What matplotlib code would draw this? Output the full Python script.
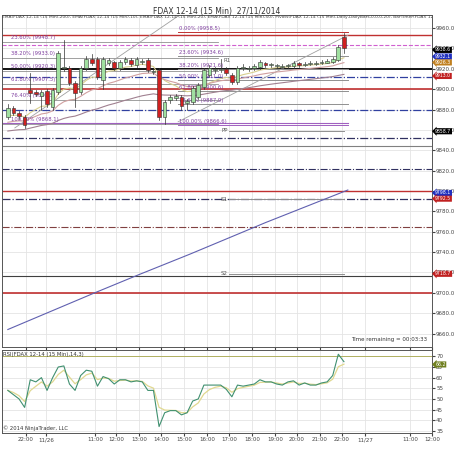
import numpy as np
import matplotlib.pyplot as plt

# 15 min candles (open, close, high, low)
opens = [9873, 9882, 9877, 9873, 9899, 9897, 9893, 9898, 9883, 9897,
         9921, 9921, 9906, 9897, 9921, 9930, 9930, 9909, 9926, 9927,
         9921, 9927, 9929, 9924, 9927, 9929, 9917, 9919, 9873, 9889,
         9891, 9892, 9886, 9887, 9892, 9902, 9914, 9919, 9919, 9920,
         9914, 9907, 9921, 9920, 9921, 9922, 9926, 9924, 9923, 9922,
         9923, 9923, 9926, 9924, 9925, 9925, 9926, 9926, 9927, 9929, 9951]
closes = [9882, 9877, 9874, 9865, 9896, 9895, 9897, 9885, 9899, 9936,
          9921, 9906, 9896, 9921, 9930, 9926, 9912, 9930, 9929, 9921,
          9927, 9930, 9925, 9930, 9928, 9919, 9917, 9873, 9887, 9892,
          9893, 9884, 9888, 9901, 9904, 9919, 9921, 9919, 9920, 9916,
          9907, 9921, 9922, 9921, 9923, 9927, 9924, 9924.5, 9923.5, 9923,
          9923.5, 9926, 9924, 9925, 9926, 9926, 9927, 9928, 9930, 9941, 9940]
highs = [9885, 9884, 9879, 9875, 9916, 9899, 9899, 9900, 9901, 9938,
         9948, 9923, 9908, 9923, 9933, 9935, 9932, 9932, 9931, 9928,
         9929, 9932, 9931, 9932, 9930, 9931, 9920, 9921, 9889, 9894,
         9895, 9894, 9890, 9903, 9906, 9921, 9924, 9922, 9930, 9922,
         9916, 9923, 9925, 9923, 9925, 9929, 9927, 9926, 9925, 9925,
         9925, 9928, 9927, 9927, 9928, 9928, 9929, 9930, 9932, 9943, 9955]
lows = [9871, 9875, 9871, 9862, 9886, 9893, 9880, 9883, 9880, 9895,
        9918, 9904, 9883, 9895, 9919, 9924, 9910, 9900, 9924, 9919,
        9919, 9925, 9923, 9922, 9925, 9917, 9915, 9870, 9866, 9886,
        9889, 9880, 9880, 9885, 9890, 9900, 9912, 9916, 9917, 9914,
        9905, 9905, 9919, 9918, 9919, 9920, 9922, 9922, 9921, 9921,
        9921, 9921, 9922, 9923, 9924, 9924, 9925, 9926, 9926, 9928, 9936]

rsi = [54, 52, 50, 46, 59, 58, 60, 54, 60, 65,
       65.5, 57, 54, 61, 63.5, 63, 56, 60.5, 59.5, 57,
       59, 59, 58, 58.5, 58, 54, 54, 37, 43.5, 44.5,
       44.5, 42.5, 43.5, 49, 50, 56.5, 56.5, 56.5, 56.5, 54.5,
       51, 56.5, 56, 56.5, 57, 59, 58, 58, 57, 56.5,
       58, 58.5, 56.5, 57.5, 56.5, 56.5, 57.5, 58, 61, 71, 67.5]

ema200_idx = [0, 15.5, 23, 32.5, 46, 60.7]
ema200_val = [9664, 9700, 9717, 9738, 9769, 9801]

tick_labels = ["22:00", "11/26", "11:00", "12:00", "13:00", "14:00", "15:00", "16:00", "17:00",
               "18:00", "19:00", "20:00", "21:00", "22:00", "11/27", "11:00", "12:00"]
tick_px = [26, 46, 95, 116, 139, 161, 184, 207, 229, 252, 275, 297, 320, 342, 365, 410, 432]
tick_pos = [(p - 8) / 5.6 for p in tick_px]

fib1 = [(9948.7, "23.60% (9948.7)"), (9933.0, "38.20% (9933.0)"), (9920.3, "50.00% (9920.3)"),
        (9907.5, "61.80% (9907.5)"), (9891.5, "76.40% (9891.5)"), (9868.1, "100.00% (9868.1)")]
fib2 = [(9958.5, "0.00% (9958.5)"), (9934.6, "23.60% (9934.6)"), (9921.6, "38.20% (9921.6)"),
        (9911.0, "50.00% (9911.0)"), (9900.6, "61.80% (9900.6)"), (9887.9, "78.60% (9887.9)"),
        (9866.6, "100.00% (9866.6)")]

# full width levels: price, colour, style, width
levels = [(9953, "#c03030", "-", 1.0), (9943, "#d060d0", "--", 0.8), (9920, "black", "-", 1.3),
          (9912, "#3040a0", "-.", 0.9), (9900, "#c03030", "-", 1.2), (9880, "#3040a0", "-.", 0.9),
          (9852, "#303060", "-.", 0.9), (9844, "#808080", "-", 0.8), (9822, "#303060", "-.", 0.8),
          (9800, "#c03030", "-", 1.0), (9792, "#303060", "-.", 0.9), (9765, "#804040", "-.", 0.8),
          (9717, "#404040", "-", 0.8), (9700, "#c03030", "-", 1.2)]
pivots = [(9859, "PP"), (9792, "S1"), (9719, "S2")]

tags = [(9938.6, "black"), (9932.1, "#2030c0"), (9926.3, "#c08020"), (9913.0, "#c02020"),
        (9858.7, "black"), (9798.1, "#2030c0"), (9792.5, "#c02020"), (9718.7, "#c02020")]

fig = plt.figure(figsize=(4.6, 4.51), dpi=100)
ax = fig.add_axes([0.004, 0.231, 0.935, 0.736])
ax2 = fig.add_axes([0.004, 0.040, 0.935, 0.184], sharex=ax)
xmin, xmax = -1.07, 75.7

for a in (ax, ax2):
    a.set_xlim(xmin, xmax)
    a.yaxis.tick_right()
    a.tick_params(labelsize=4, length=2, colors="#444444", pad=1)
    a.set_xticks(tick_pos)
    a.grid(True, color="#e4e4e4", lw=0.6)
    a.set_axisbelow(True)
    for s in a.spines.values():
        s.set_color("#555555")
        s.set_linewidth(0.7)

ax.set_ylim(9647, 9973)
ax.set_yticks(np.arange(9660, 9961, 20))
ax.set_yticklabels([f"{v:.1f}" for v in np.arange(9660, 9961, 20)])
ax.tick_params(labelbottom=False)

for lv, c, ls, lw in levels:
    ax.axhline(lv, color=c, ls=ls, lw=lw, zorder=1)

for lv, t in fib1:
    ax.plot([xmin, 37.5], [lv - 2, lv - 2], color="#909090", lw=0.6, zorder=1)
    ax.text(0.5, lv, t, fontsize=3.8, color="#8040a0", va="bottom")
for lv, t in fib2:
    c = "#c03030" if lv > 9950 else ("#a060c0" if lv < 9870 else "#909090")
    ax.plot([30.4, 60.7], [lv - 2, lv - 2], color=c, lw=0.7, zorder=1)
    ax.text(30.6, lv - 1, t, fontsize=3.8, color="#8040a0", va="bottom")
ax.plot([xmin, 60.7], [9866.6, 9866.6], color="#a060c0", lw=0.8, zorder=1)
for lv, t in pivots:
    ax.plot([39.5, 60], [lv, lv], color="#909090", lw=0.7)
    ax.text(39.3, lv, t, fontsize=4, color="#555555", ha="right", va="center")
ax.text(38.5, 9927, "R1", fontsize=4, color="#555555")

ax.plot([1.25, 30.7], [9862, 9973], color="#a0a0a0", lw=0.6)
ax.plot([30.4, 60.7], [9868, 9953], color="#a0a0a0", lw=0.6)
ax.plot(ema200_idx, ema200_val, color="#6060b0", lw=0.8)

idx = np.arange(len(closes))
cl = np.array(closes, float)
def ema(vals, span, seed):
    k = 2 / (span + 1)
    out = []
    e = seed
    for v in vals:
        e = e + k * (v - e)
        out.append(e)
    return np.array(out)
ax.plot(idx, ema(cl, 10, 9872), color="#d8d090", lw=0.8)
ax.plot(idx, ema(cl, 20, 9866), color="#d0a0a0", lw=0.8)
ax.plot(idx, ema(cl, 50, 9858), color="#a08090", lw=0.8)

for i in idx:
    o, c, h, l = opens[i], closes[i], highs[i], lows[i]
    ax.plot([i, i], [l, h], color="#333333", lw=0.5, zorder=3)
    col = "#a0e0a0" if c >= o else "#d02020"
    ax.bar(i, max(abs(c - o), 0.6), bottom=min(o, c), width=0.65, color=col,
           edgecolor="#333333", lw=0.4, zorder=4)

for lv, c in tags:
    ax.text(76.3, lv, f"{lv:.1f}", fontsize=3.3, color="white", va="center",
            bbox=dict(boxstyle="larrow,pad=0.12", fc=c, ec="none"), clip_on=False)

ax.text(74.8, 9652, "Time remaining = 00:03:33", fontsize=4, ha="right", va="bottom", color="#333333")
ax.text(0, 1.0, "EMA(FDAX 12-14 (15 Min),200), EMA(FDAX 12-14 (15 Min),10), EMA(FDAX 12-14 (15 Min),20), "
        "EMA(FDAX 12-14 (15 Min),50), Pivots(FDAX 12-14 (15 Min),Daily,DailyBars,0,0,0,20), BarTimer(FDAX 12-14",
        transform=ax.transAxes, fontsize=3.2, va="top", color="#444444", clip_on=True)
fig.text(0.47, 0.985, "FDAX 12-14 (15 Min)  27/11/2014", fontsize=5.5, ha="center", va="top", color="#333333")

ax2.set_ylim(34, 73)
ax2.set_yticks(np.arange(35, 71, 5))
ax2.set_xticklabels(tick_labels)
r = np.array(rsi)
ax2.axhline(70, color="#b0b060", lw=0.7)
ax2.plot(idx, ema(r, 3, r[0]), color="#e0d890", lw=0.9)
ax2.plot(idx, r, color="#409070", lw=0.8)
ax2.text(76.3, 66.2, "66.2", fontsize=3.3, color="white", va="center",
         bbox=dict(boxstyle="larrow,pad=0.12", fc="#708020", ec="none"), clip_on=False)
ax2.text(0.002, 0.97, "RSI(FDAX 12-14 (15 Min),14,3)", transform=ax2.transAxes, fontsize=3.8, va="top", color="#333333")
ax2.text(0.002, 0.02, "© 2014 NinjaTrader, LLC", transform=ax2.transAxes, fontsize=3.8, va="bottom", color="#333333")

fig.savefig("out.png", dpi=100)
